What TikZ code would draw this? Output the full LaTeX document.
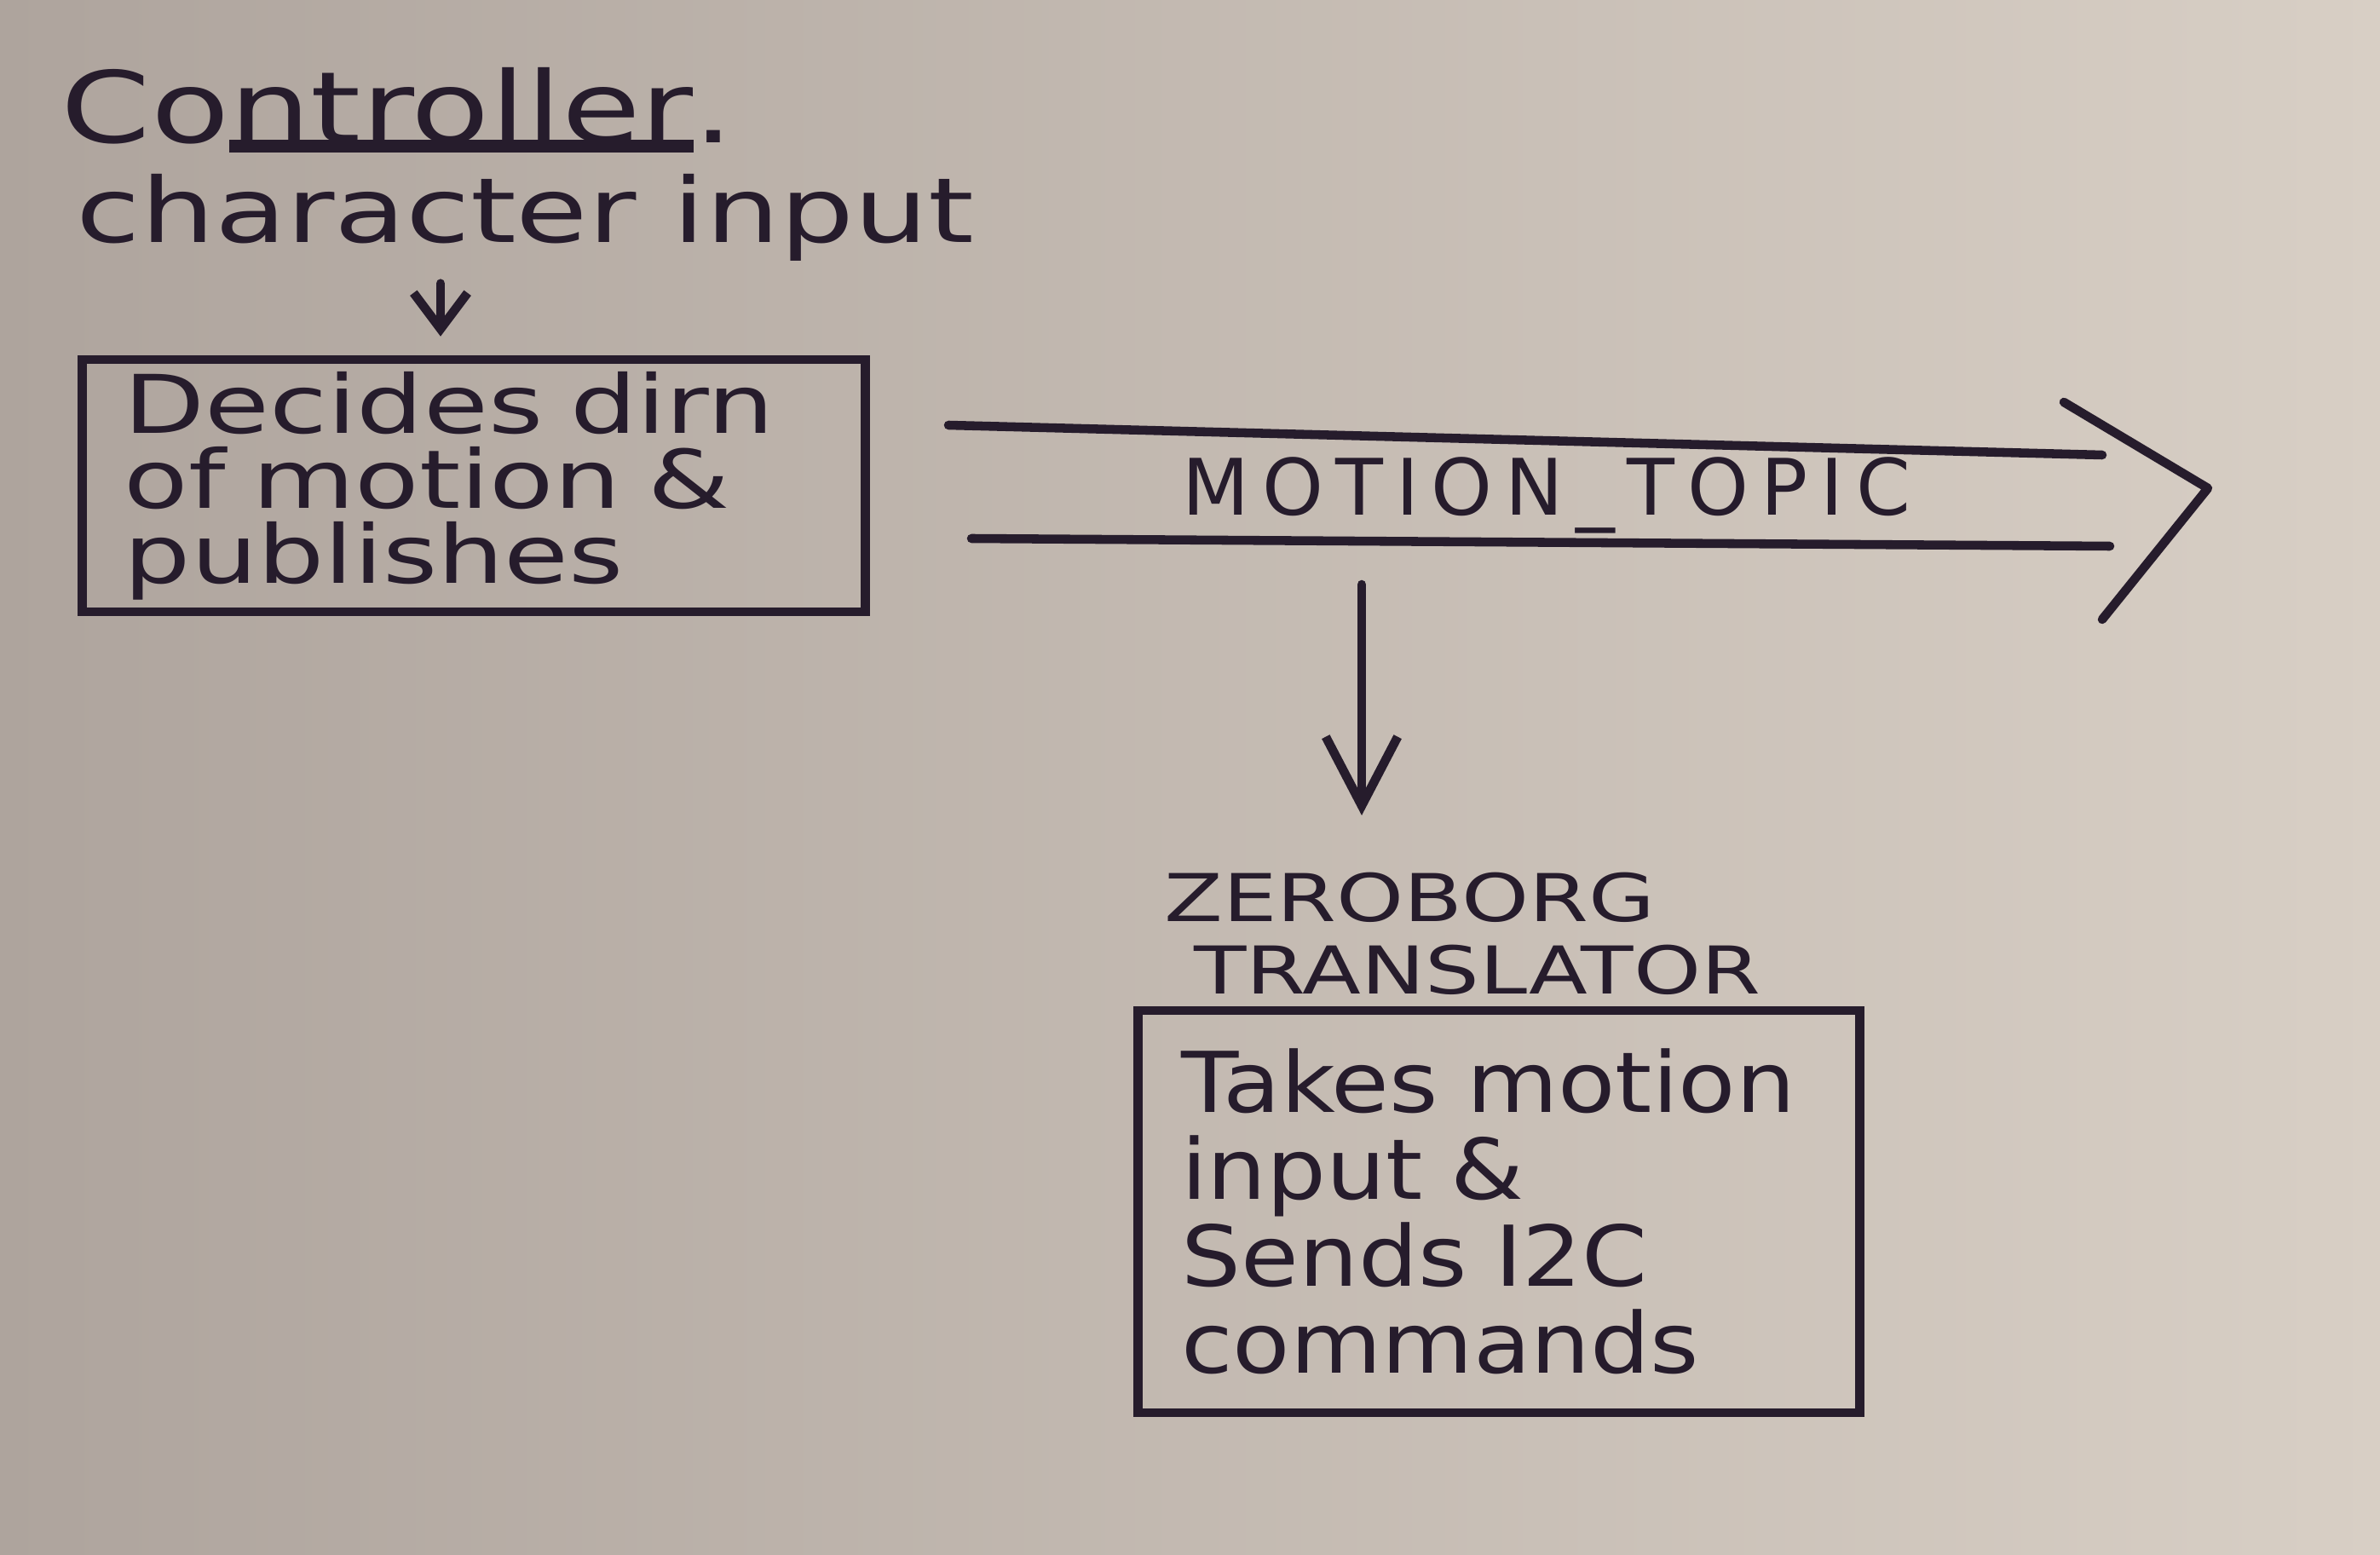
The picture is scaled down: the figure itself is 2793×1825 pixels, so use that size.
\documentclass[tikz,border=0pt]{standalone}
\usepackage{fontspec}
\setmainfont{DejaVu Sans}
\newfontfamily\handwide{DejaVu Sans}[FakeStretch=1.3]
\newfontfamily\handmid{DejaVu Sans}[FakeStretch=1.12]
\newfontfamily\capswide{DejaVu Sans}[LetterSpace=16]
\usetikzlibrary{arrows.meta}
\definecolor{inkc}{RGB}{38,28,44}
\definecolor{paperl}{RGB}{174,164,157}
\definecolor{paperr}{RGB}{216,207,197}
\newcommand\thickul[1]{\setbox0\hbox{#1}\rlap{\rule[-3pt]{\wd0}{4pt}}\box0}
\begin{document}
\begin{tikzpicture}[x=0.01cm,y=-0.01cm,
  ink/.style={draw=inkc, line width=3pt, line cap=round, line join=round},
  hand/.style={text=inkc, font=\handwide\fontsize{33}{36}\selectfont},
  caps/.style={text=inkc, font=\capswide\fontsize{26}{30}\selectfont},
  zbcaps/.style={text=inkc, font=\handwide\fontsize{22}{24}\selectfont, align=left},
  procbox/.style={draw=inkc, line width=3pt, align=left, inner xsep=14pt, inner ysep=4pt},
  smallarrow/.style={ink, -{Straight Barb[length=12pt,width=18pt,line width=3pt]}},
  droparrow/.style={ink, -{Straight Barb[length=23pt,width=24pt,line width=3pt]}}
]
\useasboundingbox (0,0) rectangle (2793,1825);
\shade[left color=paperl, right color=paperr] (0,0) rectangle (2793,1825);

% controller
\node[hand, anchor=base west, inner sep=0pt] (ctrl) at (71,168) {Co\thickul{ntroller}.};
\node[hand, font=\handwide\fontsize{30}{34}\selectfont, anchor=base west, inner sep=0pt] (charin) at (89,285) {character input};
\node[procbox, minimum width=9.17cm, minimum height=2.84cm, text width=8.2cm,
      font=\handwide\fontsize{27}{25}\selectfont, text=inkc] (decide) at (556,570)
  {Decides dirn\\of motion \&\\publishes};
\coordinate (acol) at (517,0);
\draw[smallarrow, shorten <=0.25cm, shorten >=0.22cm] (acol |- charin.south) -- (acol |- decide.north);

% motion topic arrow
\node[caps, anchor=base] (mt) at (1815,605) {MOTION\_TOPIC};
\coordinate (tl) at (1113,499);
\coordinate (tr) at (2467,534);
\coordinate (bl) at (1140,632);
\coordinate (br) at (2476,641);
\coordinate (ht) at (2422,472);
\coordinate (hp) at (2591,573);
\coordinate (hb) at (2467,727);
\draw[ink] (tl) -- (tr);
\draw[ink] (bl) -- (br);
\draw[ink] (ht) -- (hp) -- (hb);

% translator
\node[zbcaps, anchor=north west] (zb) at (1354,1012) {ZEROBORG\\\hspace*{0.35cm}TRANSLATOR};
\coordinate (drop) at (1598,686);
\draw[droparrow, shorten >=0.55cm] (drop) -- (drop |- zb.north);
\node[procbox, minimum width=8.46cm, minimum height=4.72cm, text width=7.45cm,
      font=\handmid\fontsize{28}{29}\selectfont, text=inkc] (takes) at (1759,1422)
  {Takes motion\\input \&\\Sends I2C\\commands};
\end{tikzpicture}
\end{document}
